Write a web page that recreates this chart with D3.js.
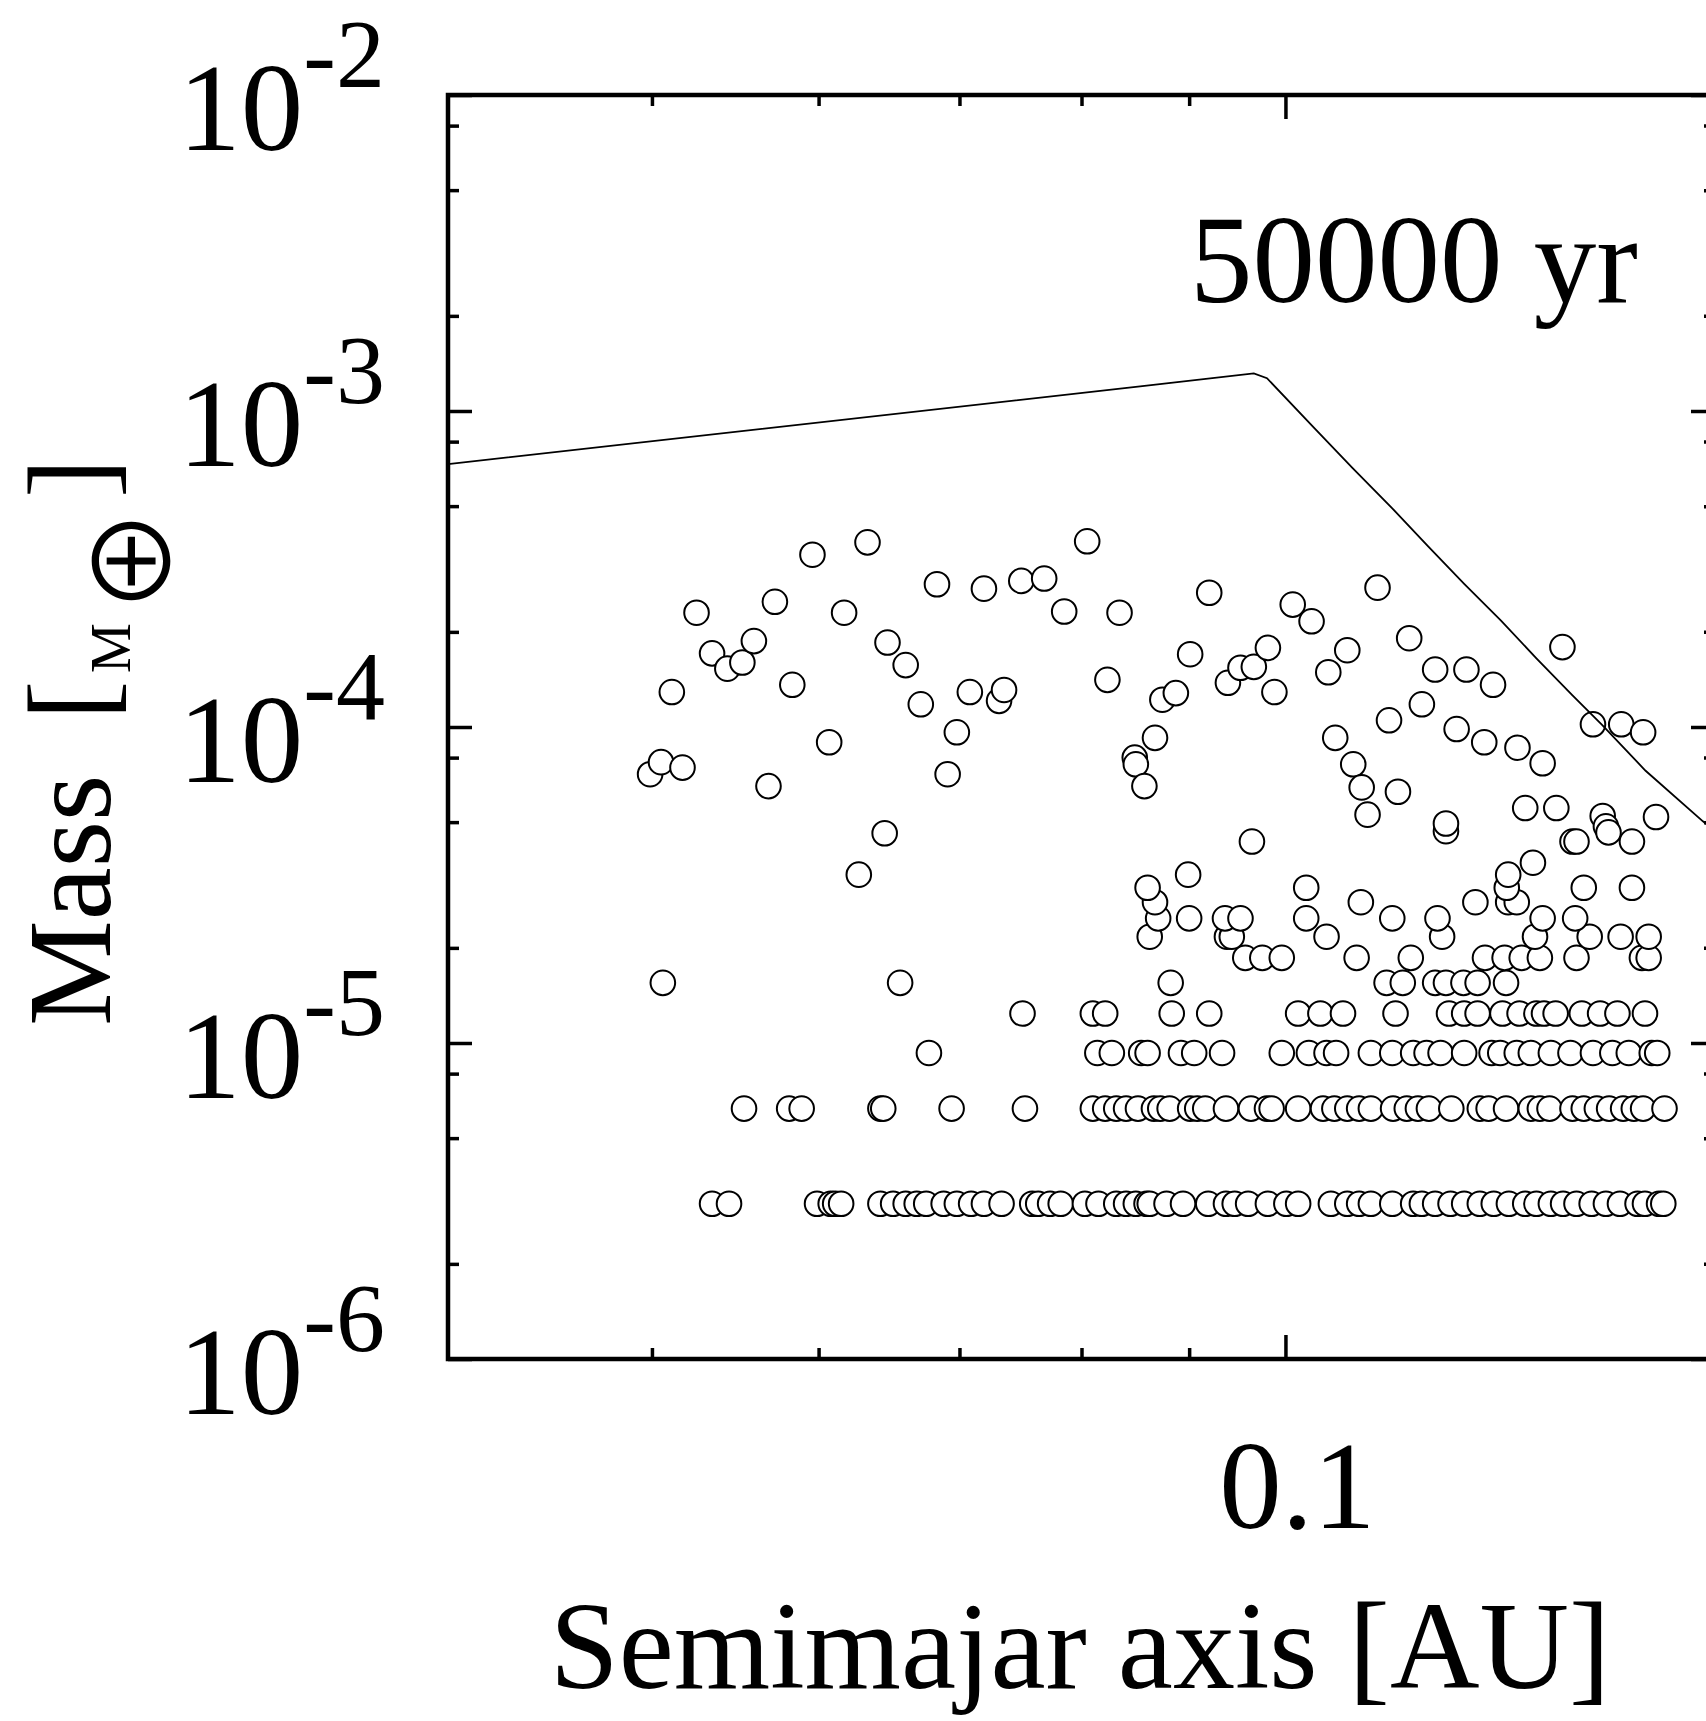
<!DOCTYPE html>
<html>
<head>
<meta charset="utf-8">
<script src="https://cdn.jsdelivr.net/npm/d3@7"></script>
<style>
  body { margin: 0; background: #fff; }
  svg { display: block; font-family: "Liberation Serif", "Times New Roman", serif; }
</style>
</head>
<body>
<div id="mass_chart"></div>
<script>
/* D3 log-log scatter: planetesimal mass vs semimajor axis */

// isolation-type limit curve
const limitA = [0.04, 0.0853, 0.0966, 0.0980, 0.1030, 0.1076, 0.1124, 0.1169, 0.1216, 0.1266, 0.1316, 0.1369, 0.1414, 0.1483, 0.1579, 0.16];
const limitM = [6.79e-4, 1.196e-3, 1.316e-3, 1.270e-3, 8.96e-4, 6.61e-4, 4.92e-4, 3.73e-4, 2.84e-4, 2.17e-4, 1.65e-4, 1.26e-4, 1.015e-4, 7.27e-5, 5.03e-5, 4.68e-5];

// grown bodies
const bigA = [0.0499, 0.0505, 0.0517, 0.0511, 0.0525, 0.0534, 0.0543, 0.0552, 0.0559, 0.0568, 0.0572, 0.0583, 0.0596, 0.0607, 0.0617,
  0.0633, 0.0645, 0.0647, 0.0660, 0.0671, 0.0683, 0.0691, 0.0698, 0.0708, 0.0719, 0.0731, 0.0735, 0.0749, 0.0768, 0.0785,
  0.0805, 0.0823, 0.0834, 0.0848, 0.0849, 0.0857, 0.0867, 0.0874, 0.0887, 0.0901, 0.0920, 0.0939, 0.0952, 0.0966, 0.0981,
  0.0988, 0.1008, 0.1029, 0.1048, 0.1056, 0.1070, 0.1077, 0.1087, 0.1094, 0.1106, 0.1120, 0.1131, 0.1145, 0.1161, 0.1178,
  0.1192, 0.1192, 0.1206, 0.1219, 0.1243, 0.1255, 0.1289, 0.1300, 0.1325, 0.1345, 0.1354, 0.1400, 0.1415, 0.1420, 0.1424,
  0.1444, 0.1479, 0.1500];
const bigM = [7.09e-5, 7.74e-5, 7.44e-5, 1.29e-4, 2.30e-4, 1.71e-4, 1.53e-4, 1.60e-4, 1.87e-4, 6.50e-5, 2.49e-4, 1.36e-4, 3.51e-4, 8.95e-5, 2.30e-4,
  3.84e-4, 4.61e-5, 1.85e-4, 1.57e-4, 1.18e-4, 2.83e-4, 7.09e-5, 9.62e-5, 1.29e-4, 2.74e-4, 1.21e-4, 1.31e-4, 2.90e-4, 2.95e-4, 2.32e-4,
  3.87e-4, 1.41e-4, 2.30e-4, 8.00e-5, 7.62e-5, 6.50e-5, 9.24e-5, 1.22e-4, 1.28e-4, 1.70e-4, 2.66e-4, 1.38e-4, 1.54e-4, 1.55e-4, 1.78e-4,
  1.29e-4, 2.44e-4, 2.16e-4, 1.49e-4, 9.24e-5, 1.75e-4, 7.62e-5, 6.44e-5, 5.28e-5, 2.76e-4, 1.05e-4, 6.24e-5, 1.91e-4, 1.18e-4, 1.52e-4,
  4.68e-5, 4.95e-5, 9.85e-5, 1.52e-4, 8.95e-5, 1.36e-4, 8.60e-5, 5.54e-5, 7.68e-5, 5.54e-5, 1.79e-4, 1.02e-4, 5.23e-5, 4.85e-5, 4.64e-5,
  1.02e-4, 9.62e-5, 5.19e-5];

// small bodies sit on discrete mass levels
const rowMass = [3.1e-6, 6.2e-6, 9.3e-6, 1.24e-5, 1.55e-5, 1.86e-5, 2.17e-5, 2.48e-5, 2.79e-5, 3.1e-5, 3.41e-5, 3.72e-5, 4.34e-5];
const rowA = [
  [0.0534, 0.0544, 0.0599, 0.0608, 0.0611, 0.0615, 0.0642, 0.0651, 0.0660, 0.0668, 0.0675, 0.0688, 0.0698, 0.0709, 0.0719, 0.0733,
   0.0758, 0.0763, 0.0773, 0.0782, 0.0803, 0.0815, 0.0831, 0.0840, 0.0849, 0.0859, 0.0862, 0.0878, 0.0894, 0.0919, 0.0937, 0.0946,
   0.0960, 0.0981, 0.1001, 0.1014, 0.1051, 0.1070, 0.1084, 0.1098, 0.1124, 0.1150, 0.1161, 0.1178, 0.1198, 0.1216, 0.1237, 0.1256,
   0.1277, 0.1300, 0.1316, 0.1337, 0.1355, 0.1375, 0.1398, 0.1420, 0.1442, 0.1470, 0.1482, 0.1505, 0.1512],
  [0.0553, 0.0581, 0.0589, 0.0642, 0.0644, 0.0694, 0.0752, 0.0810, 0.0821, 0.0831, 0.0840, 0.0851, 0.0866, 0.0872, 0.0881, 0.0901,
   0.0908, 0.0916, 0.0937, 0.0963, 0.0980, 0.0985, 0.1014, 0.1042, 0.1055, 0.1070, 0.1084, 0.1098, 0.1125, 0.1142, 0.1156, 0.1170,
   0.1199, 0.1237, 0.1249, 0.1273, 0.1308, 0.1321, 0.1335, 0.1369, 0.1386, 0.1406, 0.1425, 0.1447, 0.1464, 0.1479, 0.1514],
  [0.0677, 0.0814, 0.0827, 0.0854, 0.0860, 0.0892, 0.0905, 0.0933, 0.0996, 0.1026, 0.1046, 0.1057, 0.1098, 0.1124, 0.1150, 0.1167,
   0.1185, 0.1216, 0.1253, 0.1265, 0.1288, 0.1308, 0.1337, 0.1366, 0.1400, 0.1430, 0.1456, 0.1493, 0.1502],
  [0.0750, 0.0810, 0.0821, 0.0883, 0.0920, 0.1014, 0.1039, 0.1065, 0.1128, 0.1196, 0.1216, 0.1234, 0.1268, 0.1292, 0.1316, 0.1327,
   0.1344, 0.1383, 0.1411, 0.1438, 0.1482],
  [0.0506, 0.0656, 0.0882, 0.1117, 0.1137, 0.1178, 0.1192, 0.1215, 0.1234, 0.1273],
  [0.0957, 0.0975, 0.0996, 0.1081, 0.1147, 0.1244, 0.1271, 0.1295, 0.1321, 0.1375, 0.1477, 0.1488],
  [0.0862, 0.0938, 0.0943, 0.1046, 0.1187, 0.1314, 0.1395, 0.1443, 0.1488],
  [0.0870, 0.0900, 0.0936, 0.0952, 0.1023, 0.1124, 0.1181, 0.1325, 0.1373],
  [0.0867, 0.1086, 0.1231, 0.1276, 0.1288],
  [0.0860, 0.1023, 0.1274, 0.1386, 0.1461],
  [0.0627, 0.0899, 0.1276],
  [0.1311],
  [0.0964, 0.1369, 0.1375, 0.1461]
];

// ticks
const xMajor = [0.1];
const xMinor = [0.05, 0.06, 0.07, 0.08, 0.09];
const xTickLabels = ["0.1"];
const yMajor = [1e-2, 1e-3, 1e-4, 1e-5, 1e-6];
const yExpLabels = ["-2", "-3", "-4", "-5", "-6"];
const yMinor = [8e-3, 5e-3, 2e-3, 8e-4, 5e-4, 2e-4, 8e-5, 5e-5, 2e-5, 8e-6, 5e-6, 2e-6];

const width = 1706,
  height = 1721,
  margin = ({ top: 95, right: -9, bottom: 362, left: 448 });

const svg = d3.select("#mass_chart")
  .append("svg")
  .attr("width", width)
  .attr("height", height)
  .attr("viewBox", [0, 0, width, height]);

let x = d3.scaleLog()
  .domain([0.04, 0.16])
  .range([margin.left, width - margin.right]);

let y = d3.scaleLog()
  .domain([1e-6, 1e-2])
  .range([height - margin.bottom, margin.top]);

svg.append("clipPath")
  .attr("id", "plot-clip")
  .append("rect")
  .attr("x", margin.left)
  .attr("y", margin.top)
  .attr("width", x.range()[1] - margin.left)
  .attr("height", y.range()[0] - margin.top);

// points
let points = [];
bigA.forEach((a, i) => points.push({ a: a, m: bigM[i] }));
rowA.forEach((row, k) => row.forEach(a => points.push({ a: a, m: rowMass[k] })));

svg.append("g")
  .attr("clip-path", "url(#plot-clip)")
  .selectAll("circle")
  .data(points)
  .join("circle")
  .attr("cx", d => x(d.a))
  .attr("cy", d => y(d.m))
  .attr("r", 12.3)
  .attr("fill", "#fff")
  .attr("stroke", "#000")
  .attr("stroke-width", 2);

let line = d3.line()
  .x(d => x(d[0]))
  .y(d => y(d[1]));

svg.append("path")
  .datum(limitA.map((a, i) => [a, limitM[i]]))
  .attr("clip-path", "url(#plot-clip)")
  .attr("d", line)
  .attr("fill", "none")
  .attr("stroke", "#000")
  .attr("stroke-width", 1.8);

// inward ticks on all four sides
function ticks(axis, vals, size, transform) {
  svg.append("g")
    .attr("transform", transform)
    .call(axis.tickValues(vals).tickSize(-size).tickFormat(""))
    .call(g => g.select(".domain").remove())
    .call(g => g.selectAll(".tick line").attr("stroke-width", 3.5));
}
const x0 = x.range()[1], yb = y.range()[0];
ticks(d3.axisBottom(x), xMinor, 11, `translate(0,${yb})`);
ticks(d3.axisBottom(x), xMajor, 24, `translate(0,${yb})`);
ticks(d3.axisTop(x), xMinor, 11, `translate(0,${margin.top})`);
ticks(d3.axisTop(x), xMajor, 24, `translate(0,${margin.top})`);
ticks(d3.axisLeft(y), yMinor, 11, `translate(${margin.left},0)`);
ticks(d3.axisLeft(y), yMajor, 24, `translate(${margin.left},0)`);
ticks(d3.axisRight(y), yMinor, 11, `translate(${x0},0)`);
ticks(d3.axisRight(y), yMajor, 24, `translate(${x0},0)`);

svg.append("rect")
  .attr("x", margin.left)
  .attr("y", margin.top)
  .attr("width", x0 - margin.left)
  .attr("height", yb - margin.top)
  .attr("fill", "none")
  .attr("stroke", "#000")
  .attr("stroke-width", 4.5);

// y tick labels 10^n
yMajor.forEach((v, i) => {
  let t = svg.append("text")
    .attr("x", 385)
    .attr("y", y(v) + 55)
    .attr("text-anchor", "end")
    .attr("font-size", 125);
  t.append("tspan").text("10");
  t.append("tspan")
    .attr("font-size", 98)
    .attr("dy", -63)
    .text(yExpLabels[i]);
});

// x tick label
xMajor.forEach((v, i) => {
  svg.append("text")
    .attr("x", x(v) + 12)
    .attr("y", yb + 169)
    .attr("text-anchor", "middle")
    .attr("font-size", 125)
    .text(xTickLabels[i]);
});

svg.append("text")
  .attr("class", "x-label")
  .attr("x", 1080)
  .attr("y", 1688)
  .attr("text-anchor", "middle")
  .attr("font-size", 124)
  .text("Semimajar axis [AU]");

// y title, rotated
const yl = svg.append("g")
  .attr("class", "y-label")
  .attr("transform", "translate(110,0) rotate(-90)");
yl.append("text").attr("x", -1026).attr("y", 0).attr("font-size", 119).text("Mass");
yl.append("text").attr("x", -720).attr("y", 0).attr("font-size", 119).text("[");
yl.append("text").attr("x", -673).attr("y", 20).attr("font-size", 56).text("M");
yl.append("text").attr("x", -614).attr("y", 61).attr("font-size", 106)
  .attr("font-family", "Noto Sans CJK JP").text("\u2295");
yl.append("text").attr("x", -498).attr("y", 0).attr("font-size", 119).text("]");

svg.append("text")
  .attr("x", 1190)
  .attr("y", 302)
  .attr("font-size", 125)
  .text("50000 yr");
</script>
</body>
</html>
